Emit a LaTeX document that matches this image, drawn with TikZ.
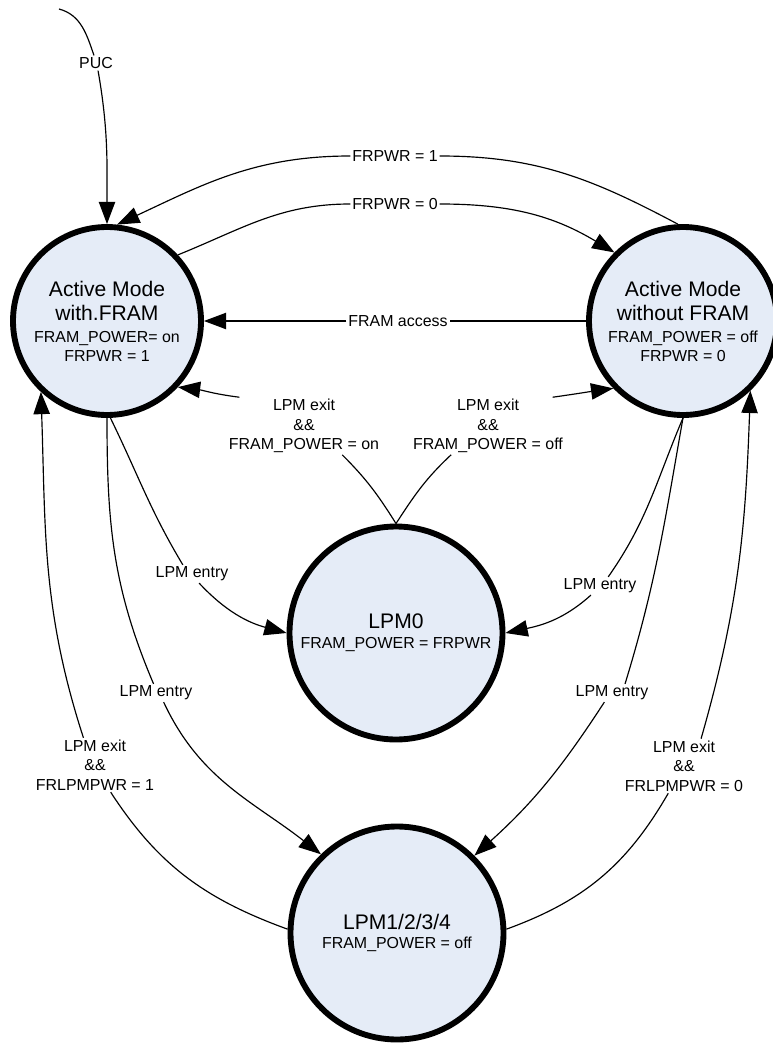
\documentclass[tikz,border=0pt]{standalone}
\usepackage{fontspec}
\setmainfont{Liberation Sans}
\usetikzlibrary{arrows.meta}
\definecolor{statefill}{RGB}{229,236,247}
\newcommand{\bigtxt}{\fontsize{18}{20.5}\selectfont}

\begin{document}
\begin{tikzpicture}[x=0.03cm, y=0.03cm, >={Triangle[length=19pt,width=14pt]},
    state/.style={draw, circle, line width=5pt, fill=statefill, inner sep=0pt, align=center, font=\fontsize{13.6}{16.2}\selectfont},
    lbl/.style={inner sep=1.5pt, align=center, font=\fontsize{13.6}{16.6}\selectfont},
    trans/.style={line width=1pt}]
    \useasboundingbox (0,0) rectangle (772,-1044);

    % states
    \node[state, minimum size=5.64cm] (amwf) at (107,-321) {{\bigtxt Active Mode}\\[4.3pt]{\bigtxt with.FRAM}\\[2.6pt]FRAM\_POWER= on\\FRPWR = 1};
    \node[state, minimum size=5.64cm] (amwof) at (683,-321) {{\bigtxt Active Mode}\\[4.3pt]{\bigtxt without FRAM}\\[2.6pt]FRAM\_POWER = off\\FRPWR = 0};
    \node[state, minimum size=6.39cm] (lpm0) at (396,-633) {{\bigtxt LPM0}\\[0.8pt]FRAM\_POWER = FRPWR};
    \node[state, minimum size=6.39cm] (lpm1) at (397,-933) {{\bigtxt LPM1/2/3/4}\\[0.2pt]FRAM\_POWER = off};

    % labels
    \coordinate (pucstart) at (59,-9);
    \node[lbl] (puc) at (96,-63) {PUC};
    \node[lbl] (frpwr1) at (395,-156) {FRPWR = 1};
    \node[lbl] (frpwr0) at (395,-204) {FRPWR = 0};
    \node[lbl] (access) at (398,-321) {FRAM access};
    \node[lbl] (exiton) at (304,-426) {LPM exit\\\&\&\\FRAM\_POWER = on};
    \node[lbl] (exitoff) at (488,-426) {LPM exit\\\&\&\\FRAM\_POWER = off};
    \node[lbl] (entryl) at (192,-574) {LPM entry};
    \node[lbl] (entryr) at (600,-586) {LPM entry};
    \node[lbl] (entryll) at (156,-693) {LPM entry};
    \node[lbl] (entryrr) at (612,-693) {LPM entry};
    \node[lbl] (lpmexit1) at (95,-765) {LPM exit\\\&\&\\FRLPMPWR = 1};
    \node[lbl] (lpmexit0) at (684,-766) {LPM exit\\\&\&\\FRLPMPWR = 0};

    % transitions
    \draw[trans] (pucstart) to[out=-15,in=109] (puc.105);
    \draw[trans,->] (puc.-75) to[out=-80,in=90] (amwf.north);

    \draw[trans] (amwof.93) to[out=152,in=0] (frpwr1.east);
    \draw[trans,->] (frpwr1.west) to[out=180,in=25] (amwf.84);
    \draw[trans] (amwf.43) to[out=22,in=180] (frpwr0.west);
    \draw[trans,->] (frpwr0.east) to[out=0,in=149] (amwof.135);

    \draw[trans] (amwof) -- (access);
    \draw[trans,->] (access) -- (amwf);

    \draw[trans] (lpm0.north) to[out=122,in=-45] (exiton.-37);
    \draw[trans,->] (exiton.156) to[out=173,in=-7] (amwf.-43);
    \draw[trans] (lpm0.north) to[out=57,in=-137] (exitoff.-142);
    \draw[trans,->] (exitoff.24) to[out=8,in=188] (amwof.-136);

    \draw[trans] (amwf.-88) to[out=-64,in=121] (entryl.135);
    \draw[trans,->] (entryl.-52) to[out=-47,in=165] (lpm0.west);
    \draw[trans] (amwof.south) to[out=-113,in=55] (entryr.48);
    \draw[trans,->] (entryr.-135) to[out=-138,in=12] (lpm0.east);

    \draw[trans] (amwf.south) to[out=-90,in=113] (entryll.105);
    \draw[trans,->] (entryll.-50) to[out=-65,in=142] (lpm1.134);
    \draw[trans] (amwof.south) to[out=-100,in=73] (entryrr.35);
    \draw[trans,->] (entryrr.-130) to[out=-123,in=42] (lpm1.45);

    \draw[trans] (lpm1.178) to[out=160,in=-57] (lpmexit1.-60);
    \draw[trans,->] (lpmexit1.113) to[out=108,in=-88] (amwf.227);
    \draw[trans] (lpm1.2) to[out=20,in=-120] (lpmexit0.-120);
    \draw[trans,->] (lpmexit0.58) to[out=74,in=-92] (amwof.-46);
\end{tikzpicture}
\end{document}
